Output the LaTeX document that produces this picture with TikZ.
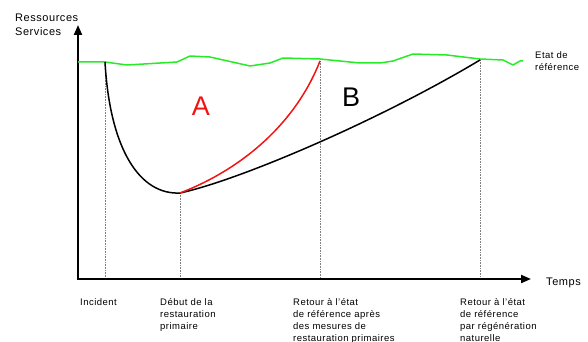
\documentclass[tikz,border=0pt]{standalone}
\usepackage{fontspec}
\setmainfont{Liberation Sans}
\usetikzlibrary{arrows.meta}
\definecolor{refgreen}{RGB}{40,235,40}
\definecolor{refred}{RGB}{240,20,20}
\begin{document}
\begin{tikzpicture}[x=1pt,y=-1pt,
  lbl/.style={inner sep=0pt,anchor=base west,align=left,
    font=\fontsize{9.5}{12}\selectfont\addfontfeature{LetterSpace=5}},
  biglbl/.style={inner sep=0pt,anchor=base west,align=left,
    font=\fontsize{11}{14}\selectfont\addfontfeature{LetterSpace=5}},
  zone/.style={inner sep=0pt,anchor=center,font=\fontsize{27}{30}\selectfont},
  axis/.style={line width=2pt,line cap=rect,-{Triangle[length=10pt,width=8pt]}},
  guide/.style={densely dotted,gray,line width=0.6pt},
  curve/.style={line width=1.5pt}]
\useasboundingbox (0,0) rectangle (588,342);

% key points
\coordinate (O) at (78,279);
\coordinate (ytip) at (78,25);
\coordinate (xtip) at (531,279);
\coordinate (I) at (105,62);
\coordinate (M) at (180,193);
\coordinate (R) at (320,61);
\coordinate (N) at (480,60);

% guides
\draw[guide] (I) -- (I |- O);
\draw[guide] (M) -- (M |- O);
\draw[guide] (R) -- (R |- O);
\draw[guide] (N) -- (N |- O);

% axes
\draw[axis] (O) -- (ytip);
\draw[axis] (O) -- (xtip);

% reference state (green)
\draw[refgreen,line width=1.5pt,line join=round]
  (78,62) -- (105,62) -- (127,65) -- (177,62) -- (190,56) -- (210,57)
  -- (250,66) -- (270,63) -- (283,58) -- (320,59) -- (360,63) -- (380,63)
  -- (393,61) -- (413,54) -- (447,55) -- (480,59) -- (503,60) -- (513,65)
  -- (520,61) -- (523,61);

% curves
\draw[curve] (I) .. controls (110,150) and (140,195) .. (M);
\draw[curve] (M) .. controls (240,180) and (380,120) .. (N);
\draw[curve,refred] (M) .. controls (240,170) and (295,125) .. (R);

% zone labels
\node[zone,text=refred] (A) at (201,106) {A};
\node[zone] (B) at (351,97) {B};

% axis labels (base anchor = baseline of the last line)
\node[biglbl] (ylab) at (15,36) {Ressources\\Services};
\node[biglbl] (xlab) at (546,285) {Temps};
\node[lbl,font=\fontsize{9.5}{13}\selectfont\addfontfeature{LetterSpace=5}] (ref) at (535,71) {Etat de\\référence};

% time labels
\node[lbl] (t1) at (80,305) {Incident};
\node[lbl] (t2) at (160,329) {Début de la\\restauration\\primaire};
\node[lbl] (t3) at (293,341) {Retour à l'état\\de référence après\\des mesures de\\restauration primaires};
\node[lbl] (t4) at (460,341) {Retour à l'état\\de référence\\par régénération\\naturelle};
\end{tikzpicture}
\end{document}
